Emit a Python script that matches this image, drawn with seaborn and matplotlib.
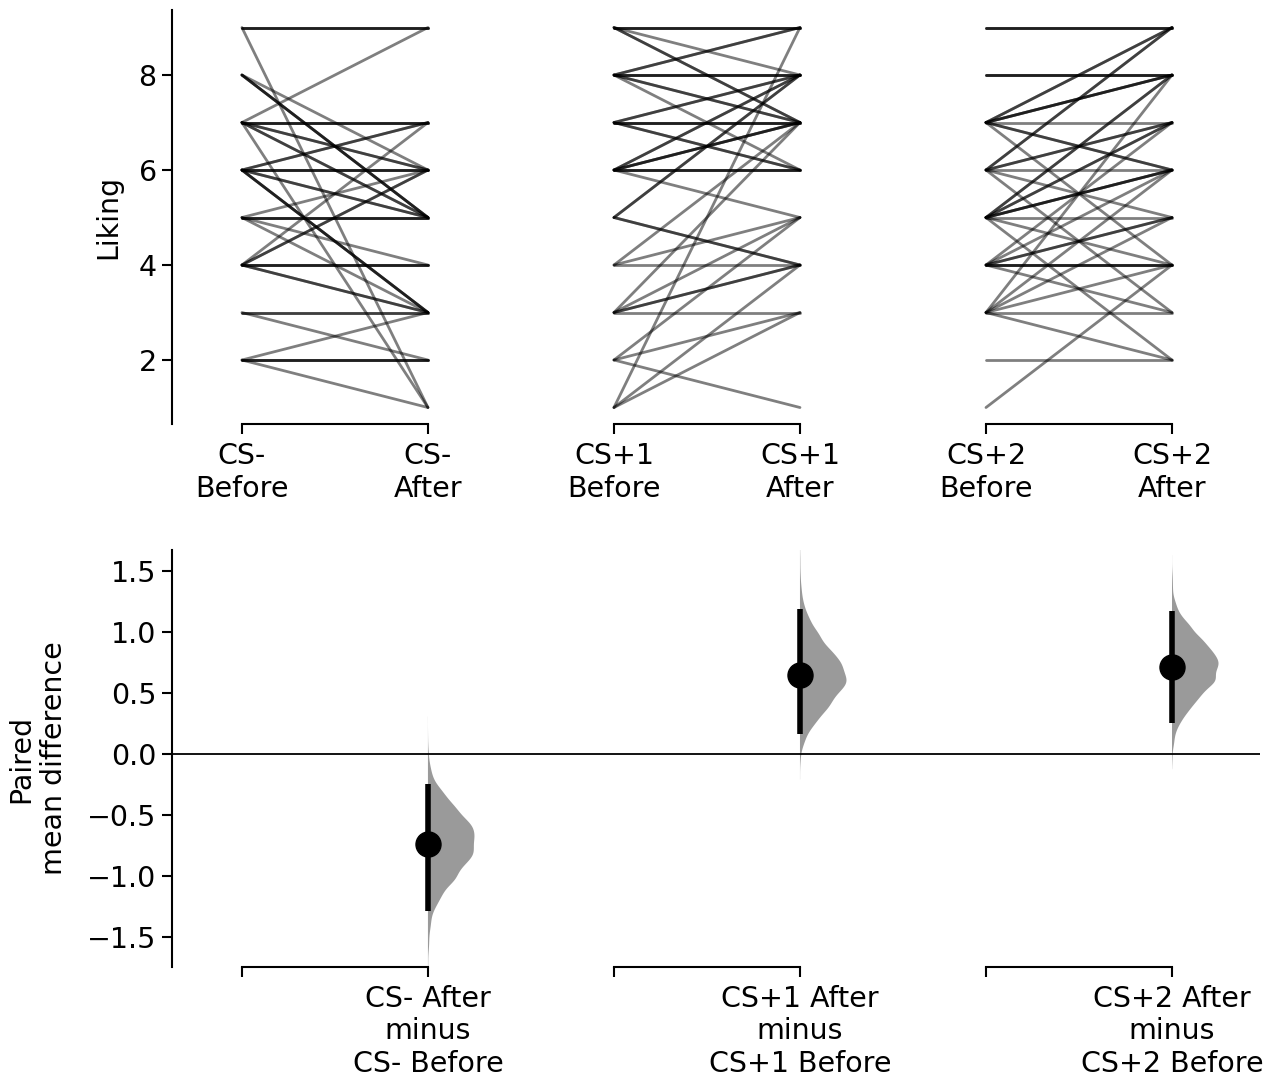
import numpy as np
import pandas as pd
import matplotlib
matplotlib.use("Agg")
import matplotlib.pyplot as plt
import seaborn as sns

# x positions: 0/1 = CS- before/after, 2/3 = CS+1, 4/5 = CS+2
tick_labels = ["CS-\nBefore", "CS-\nAfter", "CS+1\nBefore", "CS+1\nAfter",
               "CS+2\nBefore", "CS+2\nAfter"]
delta_labels = ["CS- After\nminus\nCS- Before",
                "CS+1 After\nminus\nCS+1 Before",
                "CS+2 After\nminus\nCS+2 Before"]

# paired liking ratings; count = subjects sharing a line
csm_before = [9, 9, 8, 8, 7, 7, 7, 7, 7, 6, 6, 6, 6, 5, 5, 5, 5, 4, 4, 4, 4, 3, 3, 2, 2, 2]
csm_after  = [9, 1, 5, 6, 9, 7, 6, 5, 1, 7, 6, 5, 3, 6, 5, 4, 3, 7, 6, 4, 3, 3, 2, 3, 2, 1]
csm_count  = [3, 1, 3, 1, 1, 3, 2, 2, 1, 2, 3, 2, 3, 1, 3, 1, 1, 1, 2, 3, 2, 2, 1, 1, 3, 1]

cs1_before = [9, 9, 9, 8, 8, 8, 8, 7, 7, 7, 6, 6, 6, 6, 5, 5, 4, 4, 4, 3, 3, 3, 3, 2, 2, 2, 1, 1, 1]
cs1_after  = [9, 8, 7, 9, 8, 7, 6, 8, 7, 6, 8, 7, 6, 5, 8, 4, 7, 5, 4, 7, 5, 4, 3, 5, 3, 1, 9, 4, 3]
cs1_count  = [3, 1, 2, 2, 3, 2, 1, 2, 3, 2, 2, 3, 3, 1, 2, 2, 1, 1, 1, 1, 1, 2, 1, 1, 1, 1, 1, 1, 1]

cs2_before = [9, 8, 7, 7, 7, 7, 7, 6, 6, 6, 6, 6, 5, 5, 5, 5, 5, 5, 4, 4, 4, 4, 4, 3, 3, 3, 3, 3, 3, 2, 1]
cs2_after  = [9, 8, 9, 8, 7, 6, 4, 9, 7, 6, 5, 3, 8, 7, 6, 5, 4, 2, 7, 6, 5, 4, 3, 8, 6, 5, 4, 3, 2, 2, 4]
cs2_count  = [3, 3, 2, 3, 1, 2, 1, 2, 2, 1, 1, 1, 2, 2, 3, 1, 1, 1, 1, 1, 2, 3, 1, 1, 1, 1, 1, 1, 1, 1, 1]

pairs = [(csm_before, csm_after, csm_count),
         (cs1_before, cs1_after, cs1_count),
         (cs2_before, cs2_after, cs2_count)]

rows = []
diffs = []
uid = 0
for g, (bef, aft, cnt) in enumerate(pairs):
    bef = np.repeat(bef, cnt)
    aft = np.repeat(aft, cnt)
    diffs.append(aft - bef)
    for b, a in zip(bef, aft):
        rows.append({"id": uid, "pos": 2 * g, "value": b})
        rows.append({"id": uid, "pos": 2 * g + 1, "value": a})
        uid += 1
df = pd.DataFrame(rows)

sns.set_style("ticks")
plt.rcParams["font.family"] = ["DejaVu Sans"]
plt.rcParams["font.size"] = 20.5
for key in ("text.color", "axes.labelcolor", "xtick.color", "ytick.color", "axes.edgecolor"):
    plt.rcParams[key] = "black"

fig = plt.figure(figsize=(12.74, 10.82), dpi=100)
ax1 = fig.add_axes([0.135, 0.608, 0.854, 0.383])
ax2 = fig.add_axes([0.135, 0.1063, 0.854, 0.3854])

# slopegraph
sns.lineplot(data=df, x="pos", y="value", units="id", estimator=None,
             color="black", alpha=0.5, lw=2, ax=ax1)
ax1.set_xlim(-0.376, 5.473)
ax1.set_ylim(0.65, 9.374)
ax1.set_yticks([2, 4, 6, 8])
ax1.set_xticks(range(6))
ax1.set_xticklabels(tick_labels)
ax1.set_xlabel("")
ax1.set_ylabel("Liking", fontsize=20.5)
ax1.yaxis.set_label_coords(-0.046, 0.5)

# bootstrap of paired mean differences
rng = np.random.default_rng(12345)
for g, d in enumerate(diffs):
    pos = 2 * g + 1
    idx = rng.integers(0, len(d), (5000, len(d)))
    boots = d[idx].mean(axis=1)
    lo, hi = np.percentile(boots, [2.5, 97.5])
    v = ax2.violinplot(boots, positions=[pos], widths=0.5, showextrema=False,
                       points=300)
    for body in v["bodies"]:
        verts = body.get_paths()[0].vertices
        verts[:, 0] = np.clip(verts[:, 0], pos, np.inf)
        body.set_facecolor("#9a9a9a")
        body.set_edgecolor("none")
        body.set_alpha(1)
    ax2.plot([pos, pos], [lo, hi], color="black", lw=4, solid_capstyle="butt", zorder=3)
    ax2.plot(pos, d.mean(), "o", color="black", ms=18, zorder=4)

ax2.axhline(0, color="black", lw=1.3, zorder=1)
ax2.set_xlim(-0.376, 5.473)
ax2.set_ylim(-1.742, 1.668)
ax2.set_yticks([-1.5, -1.0, -0.5, 0.0, 0.5, 1.0, 1.5])
ax2.set_xticks(range(6))
ax2.set_xticklabels(["", delta_labels[0], "", delta_labels[1], "", delta_labels[2]])
ax2.set_ylabel("Paired\nmean difference", fontsize=20.5)
ax2.yaxis.set_label_coords(-0.0956, 0.5)

for ax in (ax1, ax2):
    sns.despine(ax=ax, bottom=True)
    ax.spines["left"].set_linewidth(1.5)
    ax.tick_params(axis="both", labelsize=20.5, width=1.5, length=7)
    ax.tick_params(axis="y", pad=4)
    ax.tick_params(axis="x", pad=6)
    y0 = ax.get_ylim()[0]
    for g in range(3):
        ax.plot([2 * g, 2 * g + 1], [y0, y0], color="black", lw=1.5,
                clip_on=False, solid_capstyle="projecting")

fig.savefig("out.png", dpi=100)
